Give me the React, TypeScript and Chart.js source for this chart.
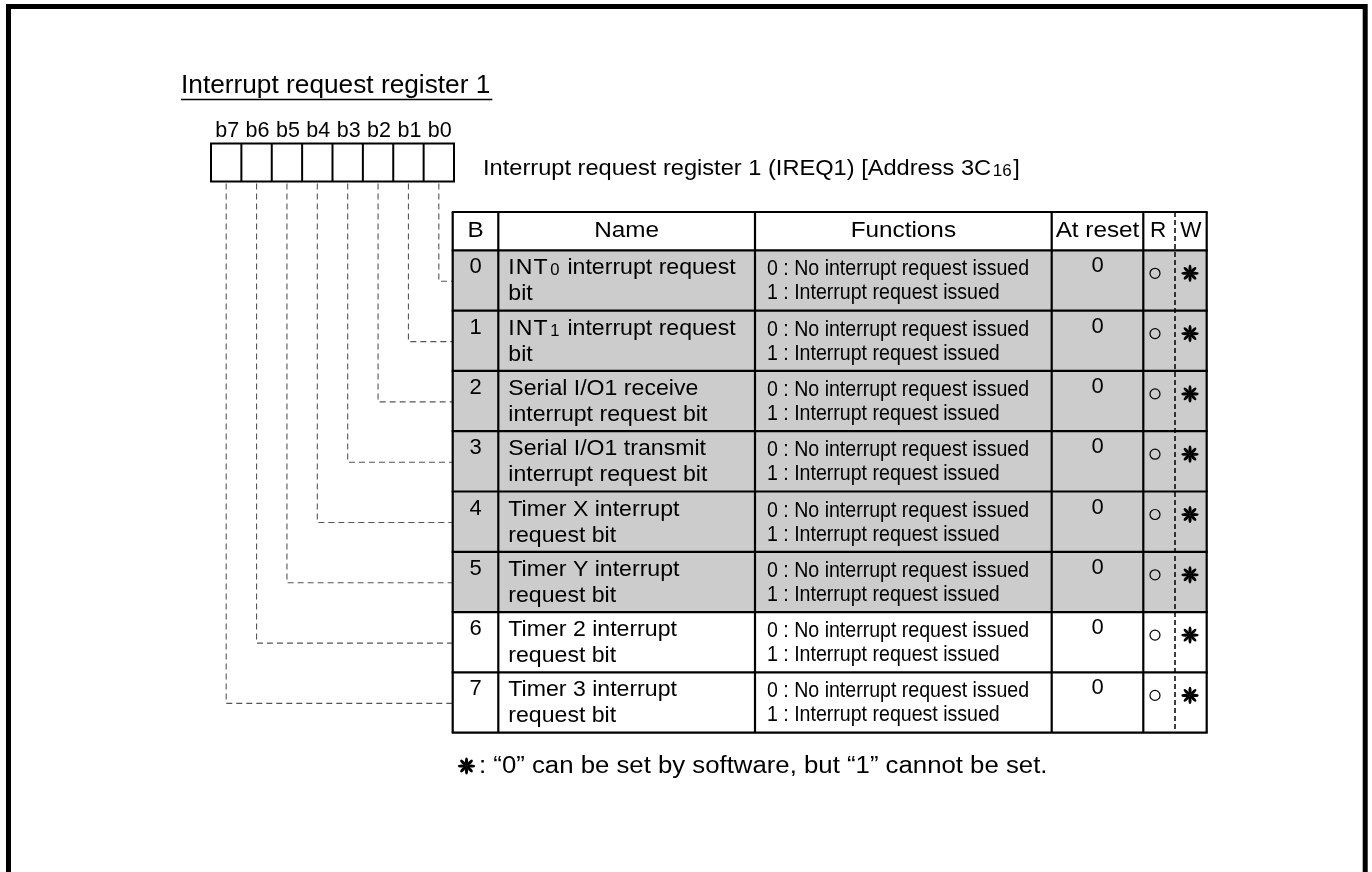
import React, { useEffect, useRef } from "react";
import { Chart, registerables } from "chart.js";

Chart.register(...registerables);

// ---------- data ----------
const TITLE = "Interrupt request register 1";
const REG_DESC = "Interrupt request register 1 (IREQ1) [Address 3C{16}]";
const BIT_LABELS = ["b7", "b6", "b5", "b4", "b3", "b2", "b1", "b0"];
const HEADERS = ["B", "Name", "Functions", "At reset", "R", "W"];
const BITS = [0, 1, 2, 3, 4, 5, 6, 7];
const NAMES_L1 = [
  "INT{0} interrupt request",
  "INT{1} interrupt request",
  "Serial I/O1 receive",
  "Serial I/O1 transmit",
  "Timer X interrupt",
  "Timer Y interrupt",
  "Timer 2 interrupt",
  "Timer 3 interrupt",
];
const NAMES_L2 = [
  "bit",
  "bit",
  "interrupt request bit",
  "interrupt request bit",
  "request bit",
  "request bit",
  "request bit",
  "request bit",
];
const FUNC_L1 = [
  "0 : No interrupt request issued",
  "0 : No interrupt request issued",
  "0 : No interrupt request issued",
  "0 : No interrupt request issued",
  "0 : No interrupt request issued",
  "0 : No interrupt request issued",
  "0 : No interrupt request issued",
  "0 : No interrupt request issued",
];
const FUNC_L2 = [
  "1 : Interrupt request issued",
  "1 : Interrupt request issued",
  "1 : Interrupt request issued",
  "1 : Interrupt request issued",
  "1 : Interrupt request issued",
  "1 : Interrupt request issued",
  "1 : Interrupt request issued",
  "1 : Interrupt request issued",
];
const AT_RESET = ["0", "0", "0", "0", "0", "0", "0", "0"];
const READABLE = [true, true, true, true, true, true, true, true];
const WRITE_ZERO_ONLY = [true, true, true, true, true, true, true, true];
const SHADED = [true, true, true, true, true, true, false, false];
const FOOTNOTE = ": \u201c0\u201d can be set by software, but \u201c1\u201d cannot be set.";

// ---------- layout (data-space coordinates, y grows downward) ----------
const CW = 1372;
const CH = 872;
const FONT = '"Liberation Sans", Arial, Helvetica, sans-serif';
const REG_X0 = 211;
const REG_X1 = 454;
const REG_Y0 = 143.5;
const REG_Y1 = 181.5;
const COLS = [452.7, 498.3, 755, 1051.7, 1143.3, 1175, 1206.7];
const T_TOP = 212;
const H_BOT = 250.3;
const ROW_H = 60.3;

type Seg = { t: string; sub: boolean };

function parseRich(s: string): Seg[] {
  return s
    .split(/(\{[^}]*\})/)
    .filter((t) => t.length > 0)
    .map((t) => (t.startsWith("{") ? { t: t.slice(1, -1), sub: true } : { t, sub: false }));
}

function rich(
  ctx: CanvasRenderingContext2D,
  s: string,
  x: number,
  y: number,
  size: number,
  align: "left" | "center",
  hs = 1,
  preSubSpacing = 0
) {
  const segs = parseRich(s);
  const subSize = size * 0.72;
  const c: any = ctx;
  const widths = segs.map((sg, i) => {
    ctx.font = `${sg.sub ? subSize : size}px ${FONT}`;
    const sp = !sg.sub && segs[i + 1] && segs[i + 1].sub ? preSubSpacing : 0;
    c.letterSpacing = `${sp}px`;
    const w = ctx.measureText(sg.t).width + (sg.sub ? 3 : 0);
    c.letterSpacing = "0px";
    return w;
  });
  const total = widths.reduce((a, b) => a + b, 0) * hs;
  const sx = align === "center" ? x - total / 2 : x;
  ctx.save();
  ctx.translate(sx, y);
  ctx.scale(hs, 1);
  ctx.textAlign = "left";
  ctx.textBaseline = "alphabetic";
  ctx.fillStyle = "#000";
  let cx = 0;
  segs.forEach((sg, i) => {
    ctx.font = `${sg.sub ? subSize : size}px ${FONT}`;
    const sp = !sg.sub && segs[i + 1] && segs[i + 1].sub ? preSubSpacing : 0;
    c.letterSpacing = `${sp}px`;
    ctx.fillText(sg.t, cx + (sg.sub ? 1.5 : 0), sg.sub ? 1 : 0);
    c.letterSpacing = "0px";
    cx += widths[i];
  });
  ctx.restore();
  return total;
}

function star(ctx: CanvasRenderingContext2D, cx: number, cy: number, r: number) {
  ctx.save();
  ctx.fillStyle = "#000";
  for (let k = 0; k < 8; k++) {
    const a = (k * Math.PI) / 4 + Math.PI / 2;
    ctx.beginPath();
    ctx.ellipse(cx + Math.cos(a) * r * 0.56, cy + Math.sin(a) * r * 0.56, r * 0.45, r * 0.18, a, 0, Math.PI * 2);
    ctx.fill();
  }
  ctx.beginPath();
  ctx.arc(cx, cy, r * 0.16, 0, Math.PI * 2);
  ctx.fill();
  ctx.restore();
}

const diagramPlugin = {
  id: "registerDiagram",
  beforeDraw(chart: any) {
    const ctx = chart.ctx as CanvasRenderingContext2D;
    ctx.save();
    ctx.fillStyle = "#fff";
    ctx.fillRect(0, 0, chart.width, chart.height);
    ctx.restore();
  },
  afterDraw(chart: any) {
    const ctx = chart.ctx as CanvasRenderingContext2D;
    const X = (v: number) => chart.scales.x.getPixelForValue(v);
    const Y = (v: number) => chart.scales.y.getPixelForValue(v);
    ctx.save();

    // frame
    ctx.strokeStyle = "#000";
    ctx.lineWidth = 5;
    ctx.beginPath();
    ctx.moveTo(X(8.5), Y(CH + 5));
    ctx.lineTo(X(8.5), Y(6.5));
    ctx.lineTo(X(1365.2), Y(6.5));
    ctx.lineTo(X(1365.2), Y(CH + 5));
    ctx.stroke();

    // title
    const tw = rich(ctx, TITLE, X(181), Y(93), 25, "left", 1.05);
    ctx.lineWidth = 1.5;
    ctx.beginPath();
    ctx.moveTo(X(181), Y(99.5));
    ctx.lineTo(X(181) + tw + 2, Y(99.5));
    ctx.stroke();

    // register boxes + labels
    const cell = (REG_X1 - REG_X0) / BIT_LABELS.length;
    const bitCenter = (b: number) => REG_X0 + (7 - b + 0.5) * cell;
    BIT_LABELS.forEach((lab, i) => {
      rich(ctx, lab, X(REG_X0 + (i + 0.5) * cell + 1), Y(137), 21.5, "center");
    });
    ctx.lineWidth = 2;
    ctx.strokeStyle = "#000";
    ctx.strokeRect(X(REG_X0), Y(REG_Y0), X(REG_X1) - X(REG_X0), Y(REG_Y1) - Y(REG_Y0));
    for (let i = 1; i < BIT_LABELS.length; i++) {
      ctx.beginPath();
      ctx.moveTo(X(REG_X0 + i * cell), Y(REG_Y0));
      ctx.lineTo(X(REG_X0 + i * cell), Y(REG_Y1));
      ctx.stroke();
    }
    rich(ctx, REG_DESC, X(483), Y(175), 22.5, "left", 1.05);

    // connectors
    const rowTop = (r: number) => H_BOT + r * ROW_H;
    ctx.save();
    ctx.strokeStyle = "#555";
    ctx.lineWidth = 1.1;
    ctx.setLineDash([6, 4]);
    BITS.forEach((b) => {
      const cx = bitCenter(b);
      const ry = rowTop(b) + 31;
      ctx.beginPath();
      ctx.moveTo(X(cx), Y(REG_Y1 + 2));
      ctx.lineTo(X(cx), Y(ry));
      ctx.lineTo(X(COLS[0]), Y(ry));
      ctx.stroke();
    });
    ctx.restore();

    // shaded rows
    BITS.forEach((b, r) => {
      if (SHADED[r]) {
        ctx.fillStyle = "#cccccc";
        ctx.fillRect(X(COLS[0]), Y(rowTop(r)), X(COLS[6]) - X(COLS[0]), Y(rowTop(r + 1)) - Y(rowTop(r)));
      }
    });

    // header
    const colMid = (c: number) => (COLS[c] + COLS[c + 1]) / 2;
    HEADERS.forEach((h, c) => {
      rich(ctx, h, X(colMid(c) + (c === 4 ? -1 : 0)), Y(237), 22.5, "center", c >= 4 ? 1 : 1.08);
    });

    // rows
    BITS.forEach((b, r) => {
      const top = rowTop(r);
      rich(ctx, String(b), X(colMid(0)), Y(top + 23), 22, "center");
      rich(ctx, NAMES_L1[r], X(COLS[1] + 10), Y(top + 24), 22, "left", 1.05, 1);
      rich(ctx, NAMES_L2[r], X(COLS[1] + 10), Y(top + 50), 22, "left", 1.05);
      rich(ctx, FUNC_L1[r], X(COLS[2] + 12), Y(top + 25), 21.5, "left", 0.91);
      rich(ctx, FUNC_L2[r], X(COLS[2] + 12), Y(top + 49), 21.5, "left", 0.91);
      rich(ctx, AT_RESET[r], X(colMid(3)), Y(top + 22), 22, "center");
      if (READABLE[r]) {
        ctx.beginPath();
        ctx.lineWidth = 1.2;
        ctx.strokeStyle = "#000";
        ctx.arc(X(1155), Y(top + 23), 5, 0, Math.PI * 2);
        ctx.stroke();
      }
      if (WRITE_ZERO_ONLY[r]) star(ctx, X(1190), Y(top + 23), 8.5);
    });

    // grid
    ctx.strokeStyle = "#000";
    ctx.lineWidth = 2.2;
    ctx.setLineDash([]);
    const bottom = rowTop(BITS.length);
    const hs = [T_TOP, H_BOT, ...BITS.map((r) => rowTop(r + 1))];
    hs.forEach((y) => {
      ctx.beginPath();
      ctx.moveTo(X(COLS[0]) - 1, Y(y));
      ctx.lineTo(X(COLS[6]) + 1, Y(y));
      ctx.stroke();
    });
    COLS.forEach((x, i) => {
      if (i === 5) return;
      ctx.beginPath();
      ctx.moveTo(X(x), Y(T_TOP));
      ctx.lineTo(X(x), Y(bottom));
      ctx.stroke();
    });
    ctx.save();
    ctx.lineWidth = 1.5;
    ctx.setLineDash([5, 3]);
    ctx.beginPath();
    ctx.moveTo(X(COLS[5]), Y(T_TOP));
    ctx.lineTo(X(COLS[5]), Y(bottom));
    ctx.stroke();
    ctx.restore();

    // footnote
    star(ctx, X(466.5), Y(766), 8.5);
    rich(ctx, FOOTNOTE, X(479), Y(773), 23, "left", 1.12);

    ctx.restore();
  },
};

export default function App() {
  const ref = useRef<HTMLCanvasElement | null>(null);
  useEffect(() => {
    if (!ref.current) return;
    const chart = new Chart(ref.current, {
      type: "scatter",
      data: { datasets: [] },
      options: {
        responsive: false,
        animation: false,
        events: [],
        layout: { padding: 0 },
        scales: {
          x: { type: "linear", min: 0, max: CW, display: false },
          y: { type: "linear", min: 0, max: CH, reverse: true, display: false },
        },
        plugins: { legend: { display: false }, tooltip: { enabled: false } },
      },
      plugins: [diagramPlugin as any],
    });
    return () => chart.destroy();
  }, []);
  return (
    <div style={{ position: "fixed", left: 0, top: 0, width: CW, height: CH, background: "#fff" }}>
      <canvas ref={ref} width={CW} height={CH} style={{ display: "block", width: CW, height: CH }} />
    </div>
  );
}
